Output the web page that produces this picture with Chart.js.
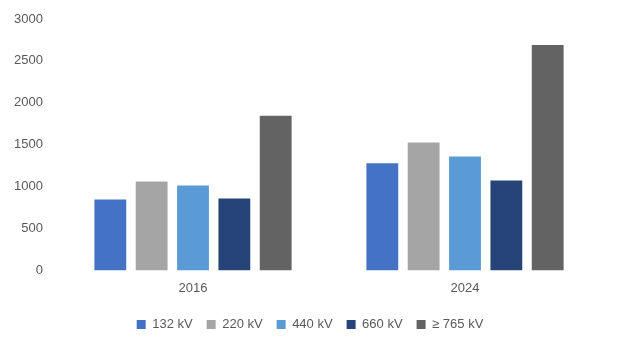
<!DOCTYPE html>
<html>
<head>
<meta charset="utf-8">
<script src="https://cdn.jsdelivr.net/npm/chart.js@4/dist/chart.umd.min.js"></script>
<style>
  html, body { margin: 0; padding: 0; background: #fff; }
  #wrap { width: 620px; height: 350px; }
</style>
</head>
<body>
<div id="wrap"><canvas id="chart" width="620" height="350"></canvas></div>
<script>
// categories on the x axis
const years = ['2016', '2024'];

// one series per voltage class
const seriesNames = ['132 kV', '220 kV', '440 kV', '660 kV', '\u2265 765 kV'];
const kv132 = [845, 1280];
const kv220 = [1060, 1525];
const kv440 = [1012, 1358];
const kv660 = [857, 1072];
const kv765 = [1845, 2690];

const seriesColors = ['#4472C4', '#A5A5A5', '#5B9BD5', '#264478', '#636363'];

const yTicks = [0, 500, 1000, 1500, 2000, 2500, 3000];

const textColor = '#595959';
const fontFamily = "'Liberation Sans', 'DejaVu Sans', sans-serif";

const allSeries = [kv132, kv220, kv440, kv660, kv765];

const data = {
    labels: years,
    datasets: allSeries.map((values, i) => ({
        label: seriesNames[i],
        data: values,
        backgroundColor: seriesColors[i],
        borderWidth: 0,
        categoryPercentage: 0.76,
        barPercentage: 0.77,
    })),
};

const config = {
    type: 'bar',
    data,
    options: {
        responsive: false,
        animation: false,
        layout: {
            padding: { top: 19, right: 0, left: 0, bottom: 9 },
        },
        scales: {
            x: {
                grid: { display: false },
                border: { display: false },
                afterFit: (scale) => {
                    scale.height += 6;
                },
                ticks: {
                    color: textColor,
                    font: { family: fontFamily, size: 13 },
                    padding: 2,
                },
            },
            y: {
                min: 0,
                max: 3000,
                afterBuildTicks: (scale) => {
                    scale.ticks = yTicks.map(v => ({ value: v }));
                },
                afterFit: (scale) => {
                    scale.width = 57;
                },
                grid: { display: false },
                border: { display: false },
                ticks: {
                    color: textColor,
                    font: { family: fontFamily, size: 13 },
                    padding: 6,
                    callback: (v) => String(v),
                },
            },
            // empty right-hand spacer so the legend stays centred on the page
            yRight: {
                position: 'right',
                grid: { display: false },
                border: { display: false },
                ticks: { display: false },
                afterFit: (scale) => {
                    scale.width = 19;
                },
            },
        },
        plugins: {
            legend: {
                position: 'bottom',
                labels: {
                    color: textColor,
                    font: { family: fontFamily, size: 13 },
                    boxWidth: 9,
                    boxHeight: 9,
                    padding: 14,
                },
            },
            tooltip: { enabled: false },
        },
    },
};

new Chart(document.getElementById('chart').getContext('2d'), config);
</script>
</body>
</html>
